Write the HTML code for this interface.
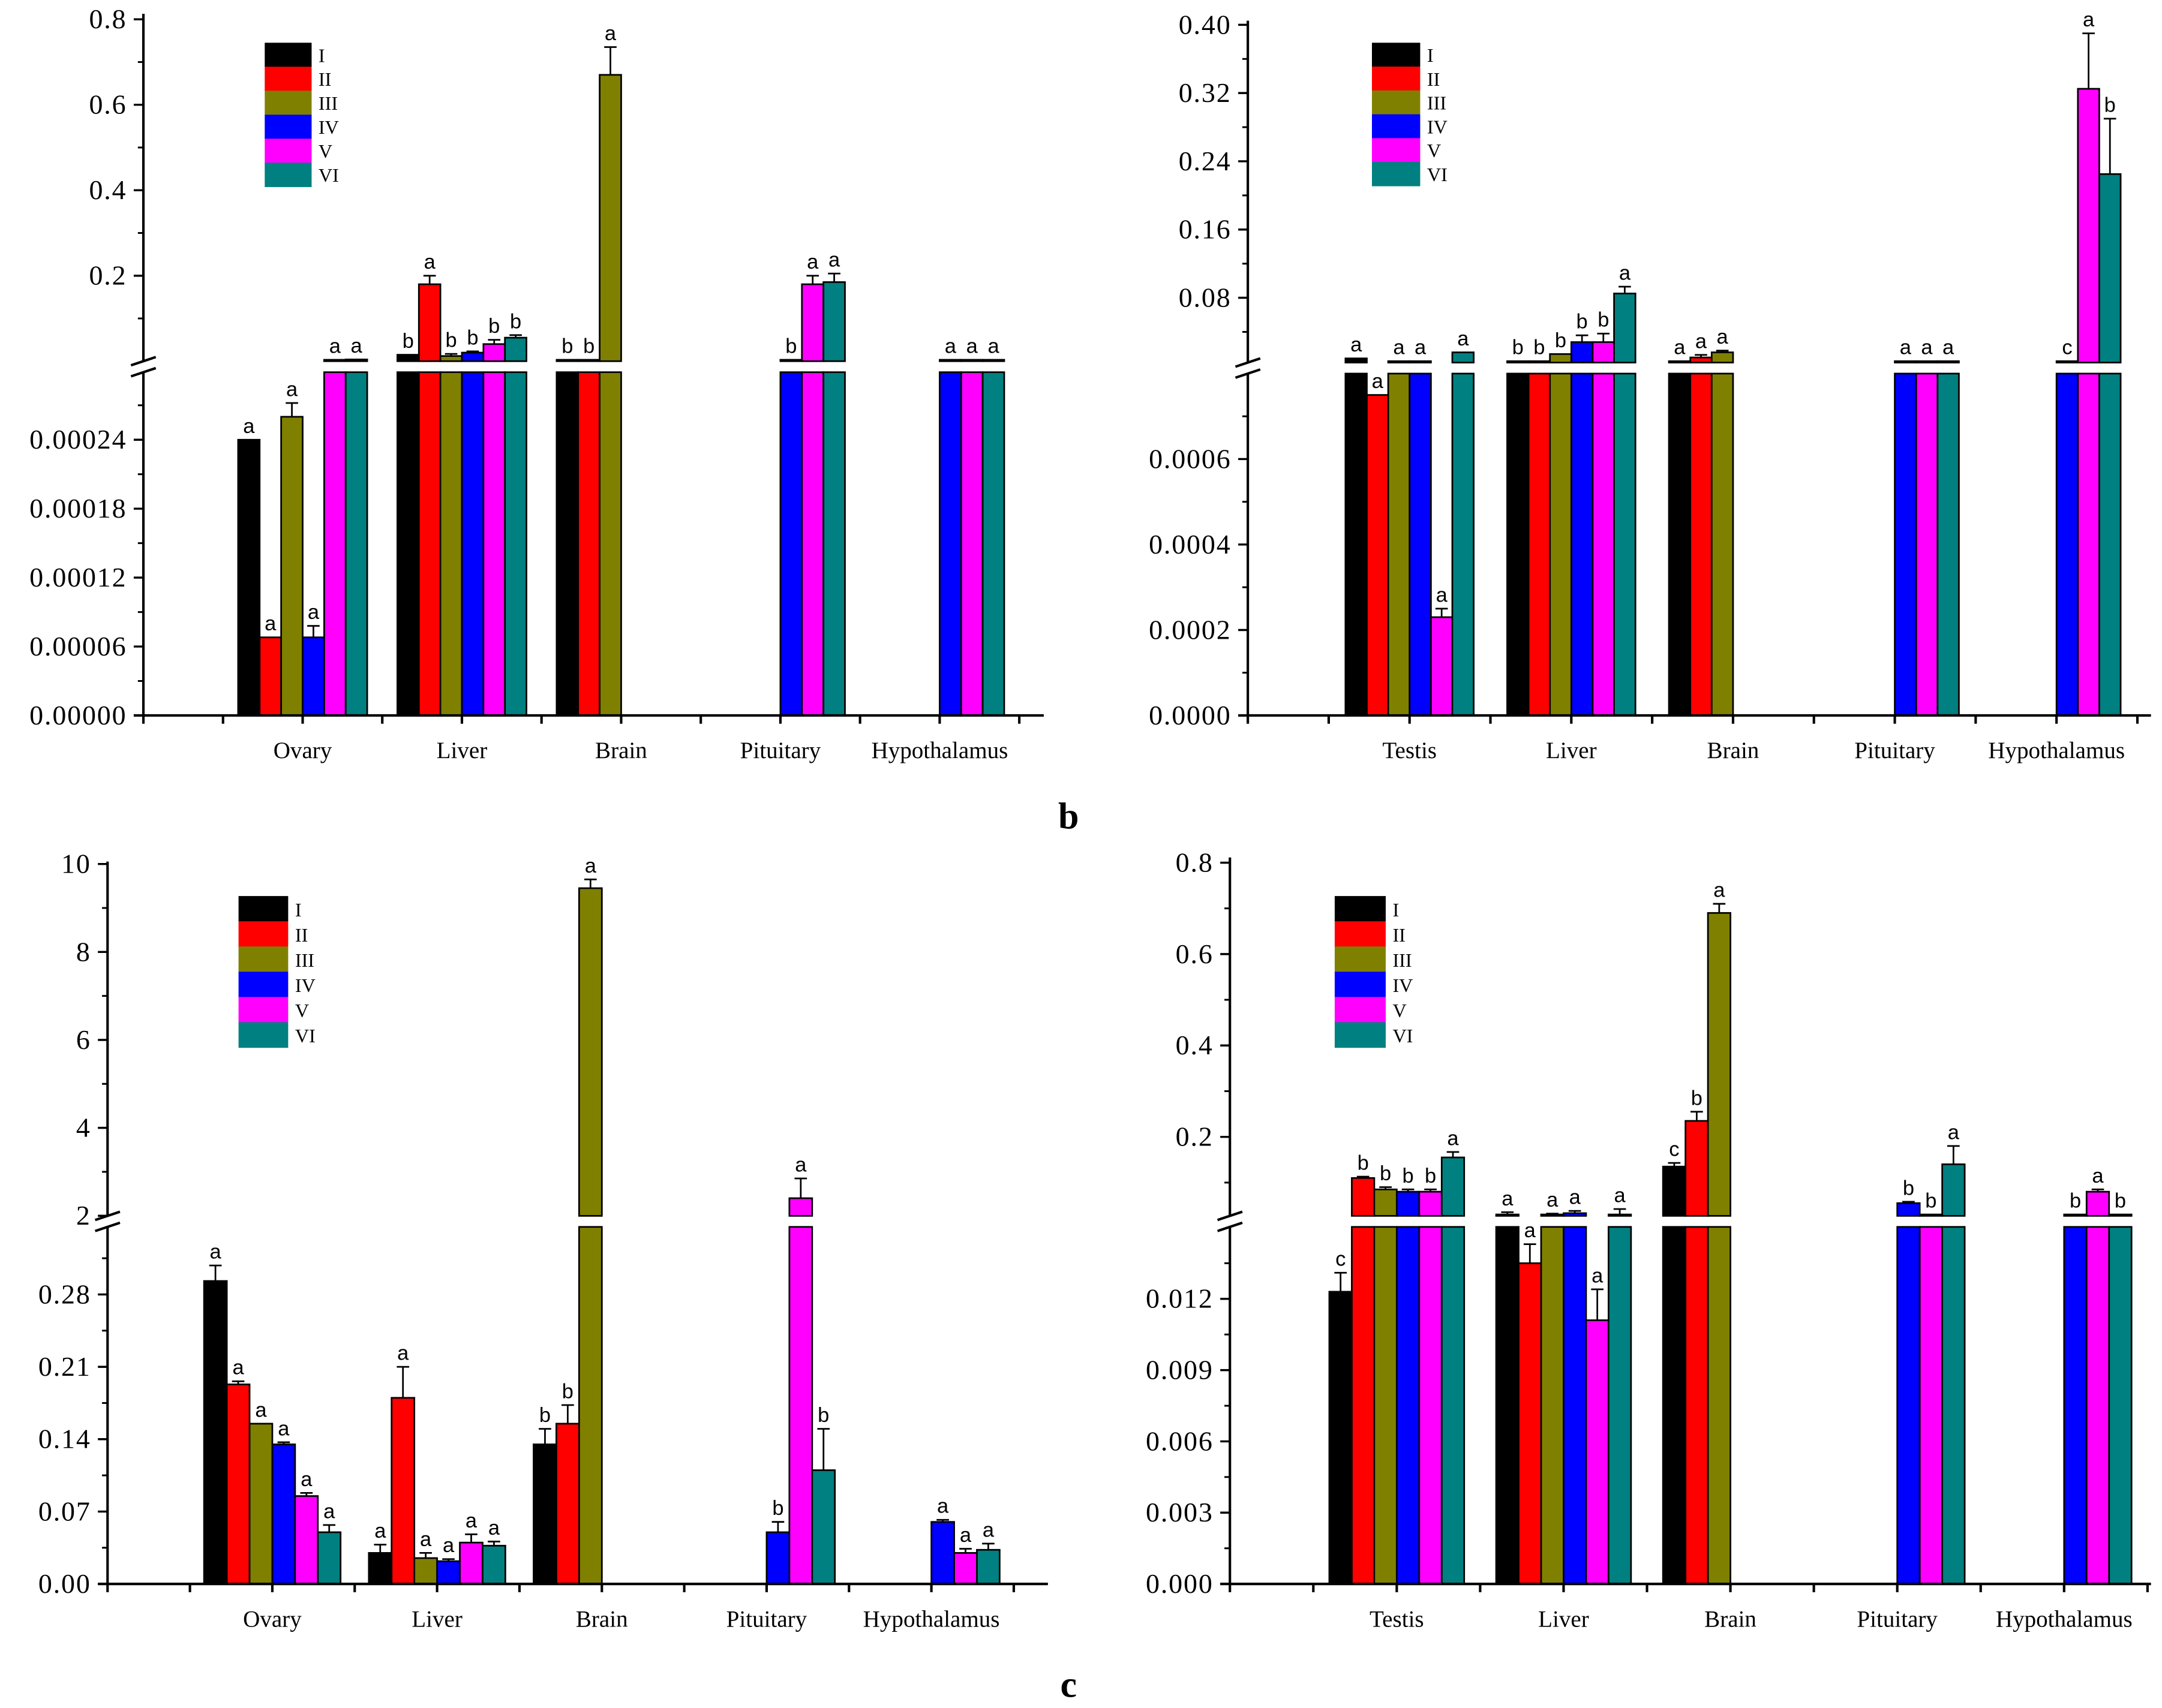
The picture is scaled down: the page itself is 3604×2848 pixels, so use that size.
<!DOCTYPE html>
<html><head><meta charset="utf-8"><style>
html,body{margin:0;padding:0;background:#fff;}
svg{display:block;}
</style></head><body>
<svg id="chart" width="3604" height="2848" viewBox="0 0 1568 1239" preserveAspectRatio="none" xmlns="http://www.w3.org/2000/svg">
<rect x="0" y="0" width="1568" height="1239" fill="#fff"/>
<text x="775" y="601" font-size="27" font-weight="bold" text-anchor="middle" font-family="Liberation Serif, serif">b</text>
<text x="775" y="1231" font-size="27" font-weight="bold" text-anchor="middle" font-family="Liberation Serif, serif">c</text>
</svg>
<script>
// ---- shared data ----
const seriesNames = ["I","II","III","IV","V","VI"];
const seriesColors = ["#000000","#ff0000","#808000","#0000ff","#ff00ff","#008080"];

// ---- Panel A (female, top-left) ----
const aTissues = ["Ovary","Liver","Brain","Pituitary","Hypothalamus"];
const aValues = [
  [0.00024,0.000068,0.00026,0.000068,0.003,0.004],
  [0.015,0.18,0.012,0.02,0.04,0.055],
  [0.001,0.001,0.67,null,null,null],
  [null,null,null,0.001,0.18,0.185],
  [null,null,null,0.001,0.001,0.001]];
const aErrors = [
  [0,0,0.000012,0.00001,0,0],
  [0,0.02,0.005,0.003,0.01,0.006],
  [0,0,0.065,0,0,0],
  [0,0,0,0,0.02,0.02],
  [0,0,0,0,0,0]];
const aLetters = [["a","a","a","a","a","a"],["b","a","b","b","b","b"],["b","b","a","","",""],["","","","b","a","a"],["","","","a","a","a"]];
const aUpperTicks = [0.2,0.4,0.6,0.8];
const aUpperLabels = ["0.2","0.4","0.6","0.8"];
const aLowerTicks = [0,0.00006,0.00012,0.00018,0.00024];
const aLowerLabels = ["0.00000","0.00006","0.00012","0.00018","0.00024"];

// ---- Panel B (male, top-right) ----
const bTissues = ["Testis","Liver","Brain","Pituitary","Hypothalamus"];
const bValues = [
  [0.0089,0.00075,0.001,0.002,0.00023,0.016],
  [0.002,0.005,0.014,0.028,0.028,0.085],
  [0.002,0.01,0.016,null,null,null],
  [null,null,null,0.004,0.003,0.002],
  [null,null,null,0.001,0.325,0.225]];
const bErrors = [
  [0,0,0,0,0.00002,0],
  [0,0,0,0.008,0.01,0.008],
  [0,0.003,0.002,0,0,0],
  [0,0,0,0,0,0],
  [0,0,0,0,0.065,0.065]];
const bLetters = [["a","a","a","a","a","a"],["b","b","b","b","b","a"],["a","a","a","","",""],["","","","a","a","a"],["","","","c","a","b"]];
const bUpperTicks = [0.08,0.16,0.24,0.32,0.40];
const bUpperLabels = ["0.08","0.16","0.24","0.32","0.40"];
const bLowerTicks = [0,0.0002,0.0004,0.0006];
const bLowerLabels = ["0.0000","0.0002","0.0004","0.0006"];

// ---- Panel C (female, bottom-left) ----
const cTissues = ["Ovary","Liver","Brain","Pituitary","Hypothalamus"];
const cValues = [
  [0.293,0.193,0.155,0.135,0.085,0.05],
  [0.03,0.18,0.025,0.022,0.04,0.037],
  [0.135,0.155,9.45,null,null,null],
  [null,null,null,0.05,2.4,0.11],
  [null,null,null,0.06,0.03,0.033]];
const cErrors = [
  [0.015,0.003,0,0.002,0.003,0.007],
  [0.008,0.03,0.005,0.002,0.008,0.004],
  [0.015,0.018,0.2,0,0,0],
  [0,0,0,0.01,0.45,0.04],
  [0,0,0,0.002,0.004,0.006]];
const cLetters = [["a","a","a","a","a","a"],["a","a","a","a","a","a"],["b","b","a","","",""],["","","","b","a","b"],["","","","a","a","a"]];
const cUpperTicks = [2,4,6,8,10];
const cUpperLabels = ["2","4","6","8","10"];
const cLowerTicks = [0,0.07,0.14,0.21,0.28];
const cLowerLabels = ["0.00","0.07","0.14","0.21","0.28"];

// ---- Panel D (male, bottom-right) ----
const dTissues = ["Testis","Liver","Brain","Pituitary","Hypothalamus"];
const dValues = [
  [0.0123,0.11,0.085,0.08,0.08,0.155],
  [0.03,0.0135,0.03,0.033,0.0111,0.029],
  [0.135,0.235,0.69,null,null,null],
  [null,null,null,0.055,0.03,0.14],
  [null,null,null,0.03,0.08,0.03]];
const dErrors = [
  [0.0008,0.003,0.005,0.005,0.005,0.012],
  [0.005,0.0008,0.002,0.005,0.0013,0.012],
  [0.008,0.02,0.02,0,0,0],
  [0,0,0,0.003,0,0.04],
  [0,0,0,0,0.005,0]];
const dLetters = [["c","b","b","b","b","a"],["a","a","a","a","a","a"],["c","b","a","","",""],["","","","b","b","a"],["","","","b","a","b"]];
const dUpperTicks = [0.2,0.4,0.6,0.8];
const dUpperLabels = ["0.2","0.4","0.6","0.8"];
const dLowerTicks = [0,0.003,0.006,0.009,0.012];
const dLowerLabels = ["0.000","0.003","0.006","0.009","0.012"];

// ---- layout (positions, not data) ----
const layouts = [
 {id:"a",axisX:104,xEnd:757,base:519,lpx:50/0.00006,lowerTop:270,upBottom:262,uZero:262,upx:62/0.2,topY:10,spacing:115.5,barW:15.6,leg:{x:192,y:31,w:34,h:17.4},minorUp:0.1,minorLow:0.00003},
 {id:"b",axisX:905,xEnd:1560,base:519,lpx:62/0.0002,lowerTop:271,upBottom:263,uZero:265.5,upx:49.5/0.08,topY:15,spacing:117.3,barW:15.5,leg:{x:995,y:31,w:35,h:17.3},minorUp:0.04,minorLow:0.0001},
 {id:"c",axisX:78,xEnd:760,base:1149,lpx:52.5/0.07,lowerTop:890,upBottom:882,uZero:945.75,upx:31.9,topY:625,spacing:119.5,barW:16.5,leg:{x:173,y:650,w:36,h:18.3},minorUp:1,minorLow:0.035},
 {id:"d",axisX:892,xEnd:1560,base:1149,lpx:51.7/0.003,lowerTop:890,upBottom:882,uZero:891,upx:331.5,topY:622,spacing:121,barW:16.3,leg:{x:968,y:650,w:37,h:18.3},minorUp:0.1,minorLow:0.0015}
];
const panelData = [
 {tissues:aTissues,values:aValues,errors:aErrors,letters:aLetters,uT:aUpperTicks,uL:aUpperLabels,lT:aLowerTicks,lL:aLowerLabels},
 {tissues:bTissues,values:bValues,errors:bErrors,letters:bLetters,uT:bUpperTicks,uL:bUpperLabels,lT:bLowerTicks,lL:bLowerLabels},
 {tissues:cTissues,values:cValues,errors:cErrors,letters:cLetters,uT:cUpperTicks,uL:cUpperLabels,lT:cLowerTicks,lL:cLowerLabels},
 {tissues:dTissues,values:dValues,errors:dErrors,letters:dLetters,uT:dUpperTicks,uL:dUpperLabels,lT:dLowerTicks,lL:dLowerLabels}
];

const SERIF="Liberation Serif, DejaVu Serif, serif";
const SANS="Liberation Sans, sans-serif";
const NS="http://www.w3.org/2000/svg";
const svg=document.getElementById("chart");
function mk(tag,attrs,parent){const e=document.createElementNS(NS,tag);for(const k in attrs)e.setAttribute(k,attrs[k]);(parent||svg).appendChild(e);return e;}
function line(x1,y1,x2,y2,w,g){return mk("line",{x1:x1,y1:y1,x2:x2,y2:y2,stroke:"#000","stroke-width":w||1.5},g);}

layouts.forEach((L,pi)=>{
  const D=panelData[pi];
  const g=mk("g",{});
  
  
  const lowerMax=(L.base-L.lowerTop)/L.lpx;
  const yL=v=>L.base-v*L.lpx;
  const yU=v=>Math.min(L.upBottom-1,L.uZero-v*L.upx);
  const cx=i=>L.axisX+(i+1)*L.spacing;
  const bx=(i,s)=>cx(i)-3*L.barW+s*L.barW;

  D.values.forEach((row,i)=>{
    row.forEach((v,s)=>{
      if(v===null) return;
      const x=bx(i,s);
      let top;
      if(v<=lowerMax){
        top=yL(v);
        const r=mk("rect",{x:x,y:top,width:L.barW,height:L.base-top,fill:seriesColors[s],stroke:"#000","stroke-width":1.2},g);
        
        
        const err=D.errors[i][s]*L.lpx;
        if(err>0){line(x+L.barW/2,top,x+L.barW/2,top-err,1.2,g);line(x+L.barW/2-4.5,top-err,x+L.barW/2+4.5,top-err,1.2,g);top-=err;}
      } else {
        const r=mk("rect",{x:x,y:L.lowerTop,width:L.barW,height:L.base-L.lowerTop,fill:seriesColors[s],stroke:"#000","stroke-width":1.2},g);
        
        
        top=yU(v);
        const r2=mk("rect",{x:x,y:top,width:L.barW,height:L.upBottom-top,fill:seriesColors[s],stroke:"#000","stroke-width":1.2},g);
        
        
        const err=D.errors[i][s]*L.upx;
        if(err>0){line(x+L.barW/2,top,x+L.barW/2,top-err,1.2,g);line(x+L.barW/2-4.5,top-err,x+L.barW/2+4.5,top-err,1.2,g);top-=err;}
      }
      const lt=D.letters[i][s];
      if(lt){
        const t=mk("text",{x:x+L.barW/2,y:top-5,"font-size":15,"text-anchor":"middle","font-family":SANS},g);
        t.textContent=lt;
        
        
      }
    });
  });
  mk("rect",{x:L.axisX+1,y:L.upBottom+0.8,width:L.xEnd-L.axisX,height:L.lowerTop-L.upBottom-1.6,fill:"#fff"},g);

  line(L.axisX,L.topY,L.axisX,L.upBottom,1.8,g);
  line(L.axisX,L.lowerTop,L.axisX,L.base,1.8,g);
  const bm=(L.upBottom+L.lowerTop)/2;
  line(L.axisX-9,bm-1,L.axisX+9,bm-7,1.8,g);
  line(L.axisX-9,bm+7,L.axisX+9,bm+1,1.8,g);
  line(L.axisX-7,L.base,L.xEnd,L.base,1.8,g);
  for(let k=0;k<=11;k++){
    const x=L.axisX+k*L.spacing/2;
    if(x>L.xEnd+1) break;
    line(x,L.base,x,L.base+6,1.8,g);
  }
  D.lT.forEach((v,j)=>{
    const y=yL(v);
    line(L.axisX-7,y,L.axisX,y,1.5,g);
    const t=mk("text",{x:L.axisX-12,y:y+6.5,"font-size":20,"text-anchor":"end","letter-spacing":"0.8","font-family":SERIF},g);
    t.textContent=D.lL[j];
    
    
  });
  for(let v=L.minorLow; v<lowerMax; v+=2*L.minorLow){line(L.axisX-4,yL(v),L.axisX,yL(v),1.3,g);}
  D.uT.forEach((v,j)=>{
    const y=L.uZero-v*L.upx;
    line(L.axisX-7,y,L.axisX,y,1.5,g);
    const t=mk("text",{x:L.axisX-12,y:y+6.5,"font-size":20,"text-anchor":"end","letter-spacing":"0.8","font-family":SERIF},g);
    t.textContent=D.uL[j];
    
    
  });
  const uMax=D.uT[D.uT.length-1];
  for(let v=D.uT[0]-L.minorUp; v<uMax; v+=2*L.minorUp){const y=L.uZero-v*L.upx; if(y<L.upBottom-2) line(L.axisX-4,y,L.axisX,y,1.3,g);}
  D.tissues.forEach((n,i)=>{
    const t=mk("text",{x:cx(i),y:L.base+31,"font-size":17,"text-anchor":"middle","font-family":SERIF},g);
    t.textContent=n;
    
    
  });
  const lg=mk("g",{},g);
  
  
  seriesNames.forEach((n,s)=>{
    const r=mk("rect",{x:L.leg.x,y:L.leg.y+s*L.leg.h,width:L.leg.w,height:L.leg.h+0.3,fill:seriesColors[s]},lg);
    
    
    const t=mk("text",{x:L.leg.x+L.leg.w+5,y:L.leg.y+s*L.leg.h+L.leg.h*0.8,"font-size":14,"font-family":SERIF},lg);
    t.textContent=n;
    
    
  });
});
</script>
</body></html>
